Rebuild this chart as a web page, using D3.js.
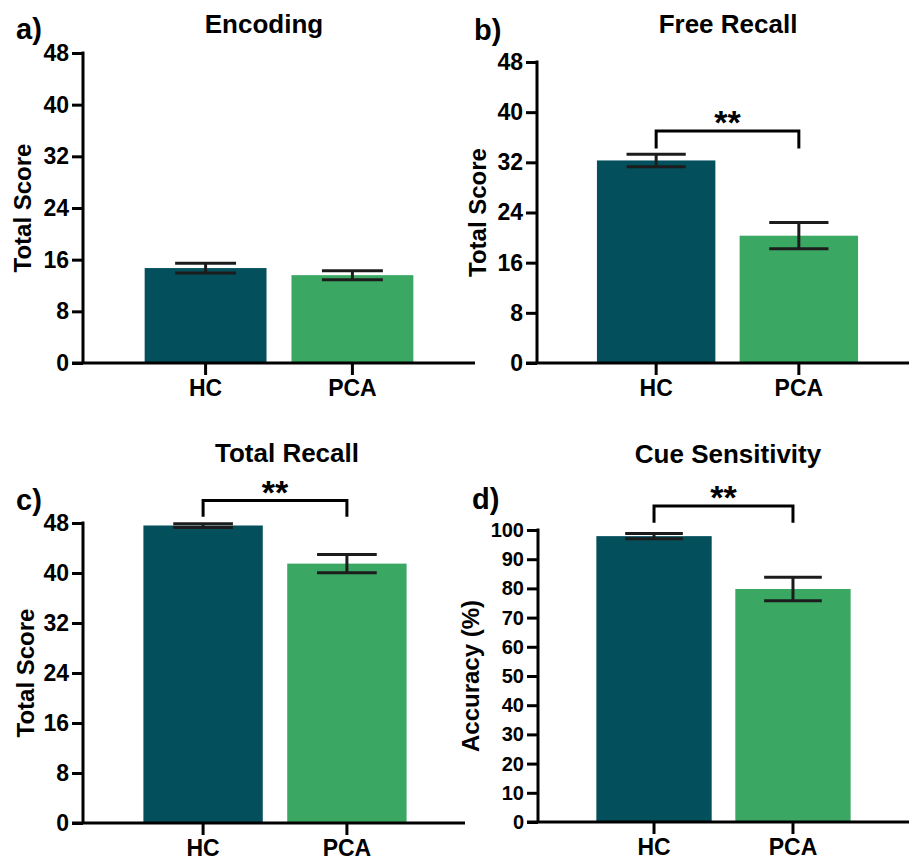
<!DOCTYPE html>
<html>
<head>
<meta charset="utf-8">
<script src="https://cdn.jsdelivr.net/npm/d3@7"></script>
<style>
  body { margin: 0; background: #fff; }
  svg { display: block; font-family: "Liberation Sans", Arial, Helvetica, sans-serif; font-weight: bold; }
</style>
</head>
<body>
<div id="chart"></div>
<script>
// groups and values
const groups = ["HC", "PCA"];
const groupColors = ["#034f5b", "#3aa763"];
const panelTags = ["a)", "b)", "c)", "d)"];
const panelTitles = ["Encoding", "Free Recall", "Total Recall", "Cue Sensitivity"];
const yTitles = ["Total Score", "Total Score", "Total Score", "Accuracy (%)"];
const scoreTicks = [0, 8, 16, 24, 32, 40, 48];
const accuracyTicks = [0, 10, 20, 30, 40, 50, 60, 70, 80, 90, 100];
const panelTicks = [scoreTicks, scoreTicks, scoreTicks, accuracyTicks];
const meanValues = [[14.7, 13.6], [32.3, 20.3], [47.6, 41.5], [97.9, 79.8]];
const semValues = [[0.75, 0.7], [1.0, 2.1], [0.3, 1.45], [0.9, 4.05]];
const sigStars = ["", "**", "**", "**"];
const sigBracketTop = [null, 37, 51.6, 108.2];
const sigBracketFoot = [null, 34.2, 49.0, 102.5];

// panel placement on the page
const layout = [
	{left: 83, top: 53, bottom: 363, width: 392, axisRight: 475, titleX: 264, titleY: 33, tagX: 16, tagY: 39, tickFont: 23, labelOff: 61},
	{left: 537, top: 62, bottom: 363, width: 381, axisRight: 909, titleX: 728, titleY: 33, tagX: 474, tagY: 40, tickFont: 23, labelOff: 60},
	{left: 83, top: 523, bottom: 823, width: 384, axisRight: 465, titleX: 287, titleY: 462, tagX: 16, tagY: 510, tickFont: 23, labelOff: 58},
	{left: 538, top: 530, bottom: 822, width: 371, axisRight: 909, titleX: 728, titleY: 463, tagX: 472, tagY: 509, tickFont: 20, labelOff: 68}
];

const svg = d3.select("#chart")
	.append("svg")
	.attr("width", 909)
	.attr("height", 862);

panelTitles.forEach(function (title, p) {
	const L = layout[p];
	const g = svg.append("g");
	const ticks = panelTicks[p];

	const x = d3.scaleBand()
		.domain(groups)
		.range([L.left, L.left + L.width])
		.paddingInner(0.17)
		.paddingOuter(0.42);

	const y = d3.scaleLinear()
		.domain([0, d3.max(ticks)])
		.range([L.bottom, L.top]);

	// bars
	g.selectAll("rect.bar")
		.data(groups)
		.enter()
		.append("rect")
		.attr("class", "bar")
		.attr("x", d => x(d))
		.attr("y", (d, i) => y(meanValues[p][i]))
		.attr("width", x.bandwidth())
		.attr("height", (d, i) => L.bottom - y(meanValues[p][i]))
		.attr("fill", (d, i) => groupColors[i]);

	// error bars
	const capW = x.bandwidth() * 0.5;
	const err = g.selectAll("g.err")
		.data(groups)
		.enter()
		.append("g")
		.attr("class", "err")
		.attr("stroke", "#1c1c1c")
		.attr("stroke-width", 3);
	err.append("line")
		.attr("x1", d => x(d) + x.bandwidth() / 2)
		.attr("x2", d => x(d) + x.bandwidth() / 2)
		.attr("y1", (d, i) => y(meanValues[p][i] - semValues[p][i]))
		.attr("y2", (d, i) => y(meanValues[p][i] + semValues[p][i]));
	[1, -1].forEach(function (s) {
		err.append("line")
			.attr("x1", d => x(d) + x.bandwidth() / 2 - capW / 2)
			.attr("x2", d => x(d) + x.bandwidth() / 2 + capW / 2)
			.attr("y1", (d, i) => y(meanValues[p][i] + s * semValues[p][i]))
			.attr("y2", (d, i) => y(meanValues[p][i] + s * semValues[p][i]));
	});

	// y axis
	const yAxis = g.append("g")
		.attr("transform", "translate(" + L.left + ",0)")
		.call(d3.axisLeft(y).tickValues(ticks).tickSize(11).tickSizeOuter(0).tickPadding(3));
	yAxis.select(".domain").attr("stroke-width", 3).attr("stroke", "#000")
		.attr("d", "M0," + (L.top - 1.5) + "V" + L.bottom);
	yAxis.selectAll(".tick line").attr("stroke-width", 3).attr("stroke", "#000");
	yAxis.selectAll(".tick text")
		.attr("fill", "#000")
		.attr("font-size", L.tickFont)
		.attr("font-family", null)
		.attr("font-weight", "bold");

	// x axis
	const xAxis = g.append("g")
		.attr("transform", "translate(0," + L.bottom + ")")
		.call(d3.axisBottom(x).tickSize(12).tickSizeOuter(0).tickPadding(5));
	xAxis.select(".domain").attr("stroke-width", 3).attr("stroke", "#000")
		.attr("d", "M" + (L.left - 11) + ",0H" + L.axisRight);
	xAxis.selectAll(".tick line").attr("stroke-width", 3).attr("stroke", "#000");
	xAxis.selectAll(".tick text")
		.attr("fill", "#000")
		.attr("font-size", 23)
		.attr("font-family", null)
		.attr("font-weight", "bold");

	// y axis title
	g.append("text")
		.attr("transform", "translate(" + (L.left - L.labelOff) + "," + ((L.top + L.bottom) / 2) + ") rotate(-90)")
		.attr("text-anchor", "middle")
		.attr("dy", "0.36em")
		.attr("font-size", 24)
		.text(yTitles[p]);

	// panel title and tag
	g.append("text")
		.attr("x", L.titleX)
		.attr("y", L.titleY)
		.attr("text-anchor", "middle")
		.attr("font-size", 26)
		.text(title);

	g.append("text")
		.attr("x", L.tagX)
		.attr("y", L.tagY)
		.attr("font-size", 29)
		.text(panelTags[p]);

	// significance bracket
	if (sigStars[p]) {
		const x0 = x(groups[0]) + x.bandwidth() / 2;
		const x1 = x(groups[1]) + x.bandwidth() / 2;
		const yt = y(sigBracketTop[p]);
		const yf = y(sigBracketFoot[p]);
		g.append("path")
			.attr("d", "M" + x0 + "," + yf + "V" + yt + "H" + x1 + "V" + yf)
			.attr("fill", "none")
			.attr("stroke", "#000")
			.attr("stroke-width", 3);
		g.append("text")
			.attr("x", (x0 + x1) / 2)
			.attr("y", yt + 3)
			.attr("text-anchor", "middle")
			.attr("font-size", 34)
			.text(sigStars[p]);
	}
});
</script>
</body>
</html>
